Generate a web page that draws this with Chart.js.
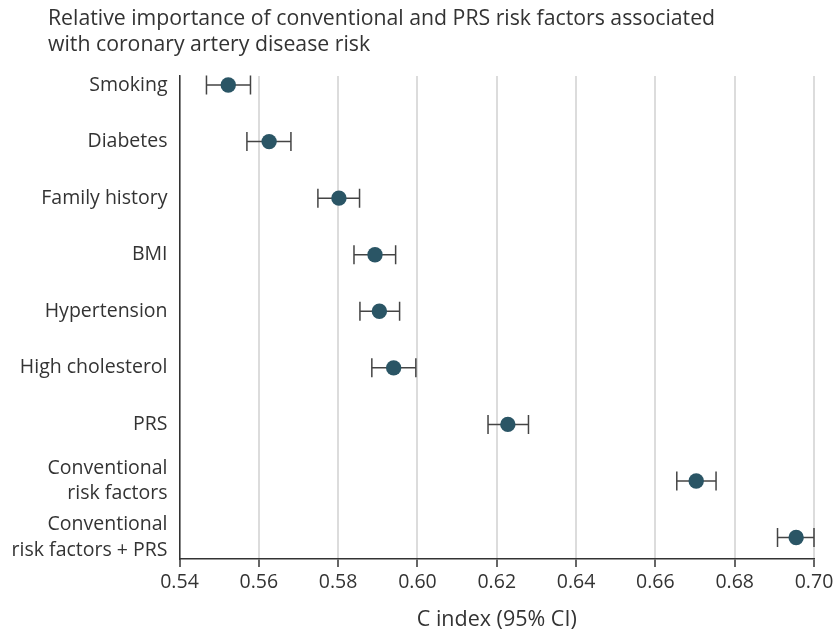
<!DOCTYPE html>
<html>
<head>
<meta charset="utf-8">
<script src="https://cdn.jsdelivr.net/npm/chart.js@4/dist/chart.umd.min.js"></script>
<style>
  html, body { margin: 0; padding: 0; background: #fff; }
</style>
</head>
<body>
<canvas id="c" width="839" height="633"></canvas>
<script>
const titleLines = ['Relative importance of conventional and PRS risk factors associated', 'with coronary artery disease risk'];
const categories = ['Smoking', 'Diabetes', 'Family history', 'BMI', 'Hypertension', 'High cholesterol', 'PRS', ['Conventional', 'risk factors'], ['Conventional', 'risk factors + PRS']];
const cIndex = [0.5523, 0.5626, 0.5802, 0.5893, 0.5904, 0.5940, 0.6228, 0.6703, 0.6955];
const ciLow  = [0.5468, 0.5570, 0.5749, 0.5840, 0.5855, 0.5885, 0.6178, 0.6654, 0.6908];
const ciHigh = [0.5579, 0.5681, 0.5854, 0.5945, 0.5955, 0.5996, 0.6280, 0.6753, 0.7000];
const xTicks = [0.54, 0.56, 0.58, 0.60, 0.62, 0.64, 0.66, 0.68, 0.70];
const xTitle = 'C index (95% CI)';

const FONT = "'Open Sans', 'Noto Sans', sans-serif";
const TEXT = '#333333';

const errorBars = {
  id: 'errorBars',
  beforeDatasetsDraw(chart) {
    const ctx = chart.ctx;
    const xs = chart.scales.x, ys = chart.scales.y;
    ctx.save();
    ctx.strokeStyle = '#444444';
    ctx.lineWidth = 1.5;
    const cap = 9.5;
    cIndex.forEach((v, i) => {
      const y = ys.getPixelForValue(i);
      const x1 = xs.getPixelForValue(ciLow[i]);
      const x2 = xs.getPixelForValue(ciHigh[i]);
      ctx.beginPath();
      ctx.moveTo(x1, y); ctx.lineTo(x2, y);
      ctx.moveTo(x1, y - cap); ctx.lineTo(x1, y + cap);
      ctx.moveTo(x2, y - cap); ctx.lineTo(x2, y + cap);
      ctx.stroke();
    });
    ctx.restore();
  }
};

const titleText = {
  id: 'titleText',
  afterDraw(chart) {
    const ctx = chart.ctx;
    ctx.save();
    ctx.fillStyle = TEXT;
    ctx.font = "21.25px " + FONT;
    ctx.textAlign = 'left';
    ctx.textBaseline = 'alphabetic';
    ctx.fillText(titleLines[0], 48, 25);
    ctx.fillText(titleLines[1], 48, 50.5);
    ctx.restore();
  }
};

new Chart(document.getElementById('c'), {
  type: 'scatter',
  data: {
    datasets: [{
      data: cIndex.map((v, i) => ({ x: v, y: i })),
      backgroundColor: '#2a5565',
      borderColor: '#2a5565',
      borderWidth: 0,
      pointRadius: 7.7,
      pointHoverRadius: 7.7
    }]
  },
  options: {
    responsive: false,
    animation: false,
    events: [],
    layout: { padding: { left: 0, right: 25, top: 76, bottom: 0 } },
    plugins: {
      legend: { display: false },
      tooltip: { enabled: false },
      title: { display: false }
    },
    scales: {
      x: {
        type: 'linear',
        min: 0.54,
        max: 0.70,
        afterBuildTicks(scale) { scale.ticks = xTicks.map(v => ({ value: v })); },
        afterFit(scale) { scale.height = 74; },
        grid: { color: '#dcdcdc', lineWidth: 2, tickColor: '#333333', tickLength: 8, tickWidth: 1.5, drawTicks: true },
        border: { display: true, color: '#333333', width: 1.5 },
        ticks: {
          color: TEXT,
          font: { family: FONT, size: 19.5 },
          padding: 4,
          maxRotation: 0,
          callback: v => v.toFixed(2)
        },
        title: {
          display: true,
          text: xTitle,
          color: TEXT,
          font: { family: FONT, size: 21.5 },
          padding: { top: 0, bottom: 0 }
        }
      },
      y: {
        type: 'linear',
        reverse: true,
        min: -0.16,
        max: 8.38,
        afterBuildTicks(scale) { scale.ticks = categories.map((c, i) => ({ value: i })); },
        afterFit(scale) { scale.width = 179.5; },
        grid: { display: false, drawTicks: false },
        border: { display: true, color: '#333333', width: 1.5 },
        ticks: {
          color: TEXT,
          font: { family: FONT, size: 19.5, lineHeight: 1.33 },
          padding: 12,
          callback: v => categories[v]
        }
      }
    }
  },
  plugins: [errorBars, titleText]
});
</script>
</body>
</html>
